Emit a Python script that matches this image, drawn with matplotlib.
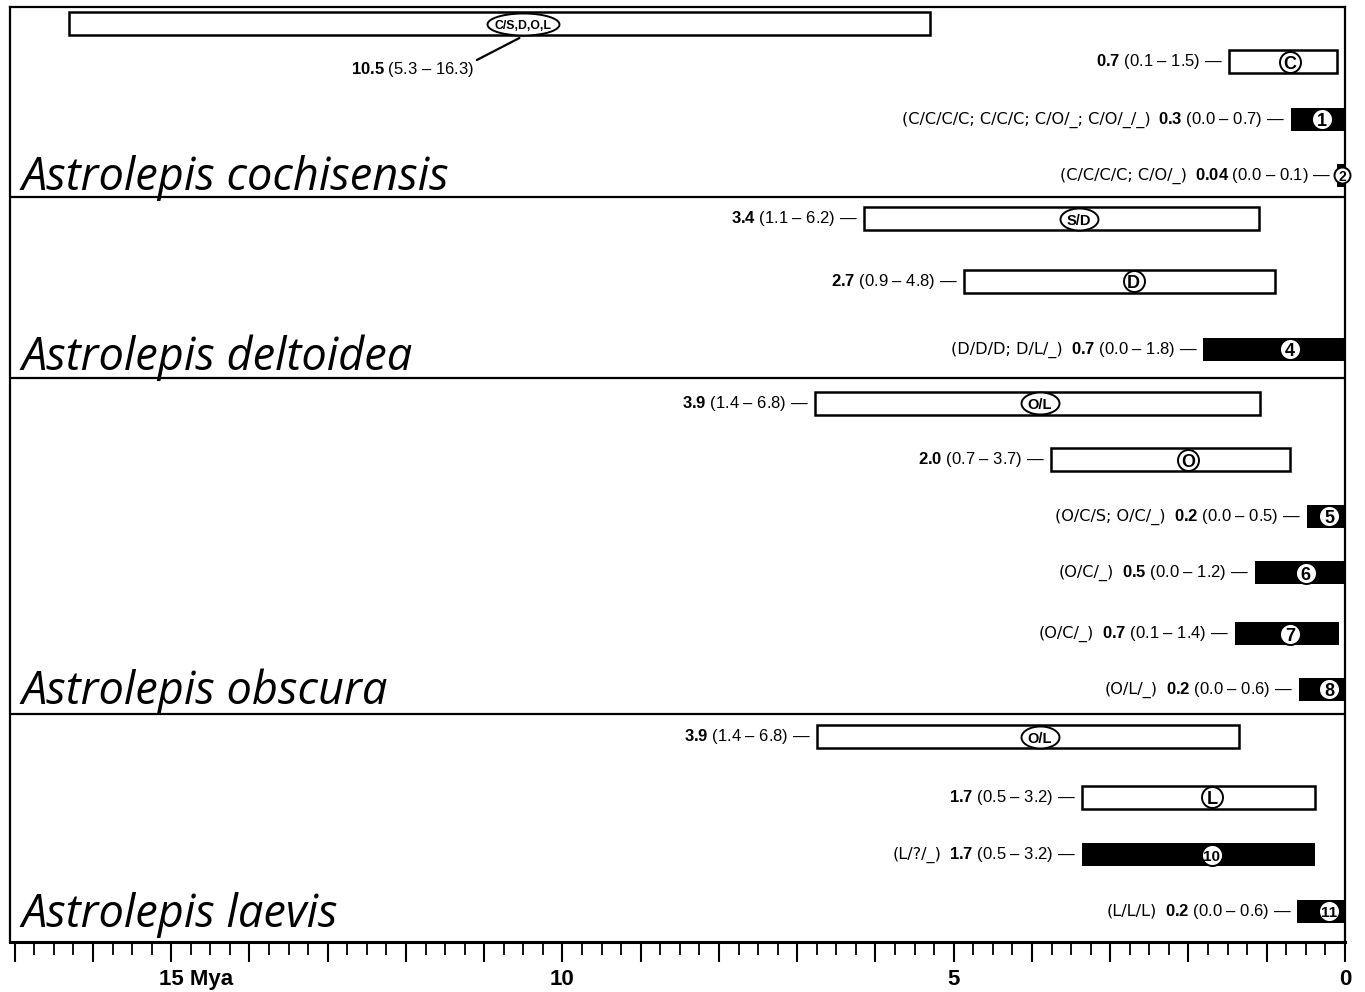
import numpy as np
import matplotlib
matplotlib.use('Agg')
import matplotlib.pyplot as plt
from matplotlib.ticker import MultipleLocator, FuncFormatter
from matplotlib.path import Path

# ---------------- data ----------------
species = ["Astrolepis cochisensis", "Astrolepis deltoidea",
           "Astrolepis obscura", "Astrolepis laevis"]
tags = ["C/S,D,O,L", "C", "1", "2", "S/D", "D", "4", "O/L", "O",
        "5", "6", "7", "8", "O/L", "L", "10", "11"]
filled = [False, False, True, True, False, False, True, False, False,
          True, True, True, True, False, False, True, True]
mean_age = [10.5, 0.7, 0.3, 0.04, 3.4, 2.7, 0.7, 3.9, 2.0,
            0.2, 0.5, 0.7, 0.2, 3.9, 1.7, 1.7, 0.2]
mean_txt = ["10.5", "0.7", "0.3", "0.04", "3.4", "2.7", "0.7", "3.9", "2.0",
            "0.2", "0.5", "0.7", "0.2", "3.9", "1.7", "1.7", "0.2"]
ci_low = ["5.3", "0.1", "0.0", "0.0", "1.1", "0.9", "0.0", "1.4", "0.7",
          "0.0", "0.0", "0.1", "0.0", "1.4", "0.5", "0.5", "0.0"]
ci_high = ["16.3", "1.5", "0.7", "0.1", "6.2", "4.8", "1.8", "6.8", "3.7",
           "0.5", "1.2", "1.4", "0.6", "6.8", "3.2", "3.2", "0.6"]
bar_young = [5.3, 0.1, 0.0, 0.0, 1.1, 0.9, 0.0, 1.08, 0.7,
             0.0, 0.0, 0.08, 0.0, 1.35, 0.38, 0.38, 0.0]
bar_old = [16.3, 1.48, 0.69, 0.1, 6.15, 4.87, 1.81, 6.77, 3.76,
           0.49, 1.15, 1.41, 0.59, 6.75, 3.36, 3.36, 0.61]
genotypes = ["", "", "(C/C/C/C; C/C/C; C/O/_; C/O/_/_)", "(C/C/C/C; C/O/_)",
             "", "", "(D/D/D; D/L/_)", "", "",
             "(O/C/S; O/C/_)", "(O/C/_)", "(O/C/_)", "(O/L/_)",
             "", "", "(L/?/_)", "(L/L/L)"]
tick_values = [0, 5, 10, 15]
tick_labels = ["0", "5", "10", "15 Mya"]

# ---------------- layout ----------------
row_y = [24, 62, 119.5, 175.5, 219, 281.5, 349.5, 403.5, 460, 516.5,
         573, 634, 689.5, 737, 797.5, 855, 911.5]
separators = [197, 378, 714]
species_baseline = [190, 370, 704, 927]
bar_h = 23

LAB = 'Liberation Sans'
PX = 72 / 100  # points per pixel

plt.rcParams['mathtext.fontset'] = 'custom'
plt.rcParams['mathtext.bf'] = 'Liberation Sans:bold'
plt.rcParams['mathtext.rm'] = 'Liberation Sans'


def ellipse_marker(aspect):
    th = np.linspace(0, 2 * np.pi, 72)
    return Path(np.column_stack([aspect * np.cos(th), np.sin(th)]), closed=True)


fig = plt.figure(figsize=(13.65, 9.92), dpi=100)
ax = fig.add_axes([10 / 1365, 50 / 992, 1335 / 1365, 935 / 992])
ax.set_xlim(17.06, 0)
ax.set_ylim(942, 7)

for s in ax.spines.values():
    s.set_linewidth(1.6)
ax.spines['bottom'].set_linewidth(2.2)

for y in separators:
    ax.axhline(y, color='black', lw=1.6, zorder=2)

for i in range(len(tags)):
    fc = 'black' if filled[i] else 'white'
    ax.barh(row_y[i], bar_old[i] - bar_young[i], left=bar_young[i],
            height=bar_h, color=fc, edgecolor='black',
            linewidth=0 if filled[i] else 1.8, zorder=3)

    # bubble around the tag
    n = len(tags[i])
    if n > 2:
        w_px = 72 if n > 4 else 38
        mk = ellipse_marker(w_px / 22)
        ms = w_px * PX
        fs = 8.8 if n > 4 else 10.5
    else:
        mk = 'o'
        ms = (16 if tags[i] == '2' else 21) * PX
        fs = 10 if tags[i] == '2' else (11 if n == 2 else 13)
    ax.plot([mean_age[i]], [row_y[i]], marker=mk, ms=ms, mfc='white',
            mec='black', mew=1.4, ls='none', zorder=6, clip_on=False)
    ax.text(mean_age[i], row_y[i] + 0.5, tags[i], ha='center',
            va='center_baseline', fontsize=fs, fontweight='bold',
            family=LAB, color='black', zorder=7, clip_on=False)

    lab = r"$\mathbf{%s}$ (%s – %s)" % (mean_txt[i], ci_low[i], ci_high[i])
    if i == 0:
        ax.annotate(lab, xy=(mean_age[i] + 0.05, row_y[i] + 14),
                    xytext=(mean_age[i] + 0.63, row_y[i] + 46),
                    ha='right', va='center', fontsize=12, family=LAB,
                    arrowprops=dict(arrowstyle='-', lw=1.6, color='black',
                                    shrinkA=0, shrinkB=0, relpos=(1.0, 0.95)),
                    zorder=4)
        continue
    t = ax.annotate(lab + " —", xy=(bar_old[i], row_y[i]),
                    xytext=(-6, 0), textcoords='offset pixels',
                    ha='right', va='center', fontsize=12, family=LAB, zorder=4)
    if genotypes[i]:
        ax.annotate(genotypes[i], xy=(0, 0.5), xycoords=t,
                    xytext=(-8, 0), textcoords='offset pixels',
                    ha='right', va='center', fontsize=11.6,
                    family='DejaVu Sans', zorder=4)

# species names
for name, yb in zip(species, species_baseline):
    ax.annotate(name, xy=(0, yb), xycoords=('axes fraction', 'data'),
                xytext=(12, 0), textcoords='offset pixels',
                ha='left', va='baseline', fontsize=32.5, style='italic',
                family='Open Sans')

# axis ticks
ax.set_yticks([])
ax.xaxis.set_major_locator(MultipleLocator(1))
ax.xaxis.set_minor_locator(MultipleLocator(0.25))
ax.xaxis.set_major_formatter(FuncFormatter(lambda v, p: ''))
ax.tick_params(axis='x', which='major', length=14.5, width=1.5)
ax.tick_params(axis='x', which='minor', length=9.5, width=1.3)

tick_fs = 16
renderer = fig.canvas.get_renderer()
for v, l in zip(tick_values, tick_labels):
    num = l.split(' ')[0]
    tmp = fig.text(0, 0, num, fontsize=tick_fs, fontweight='bold', family=LAB)
    w = tmp.get_window_extent(renderer=renderer).width
    tmp.remove()
    ax.annotate(l, xy=(v, 0), xycoords=('data', 'axes fraction'),
                xytext=(-w / 2, -27), textcoords='offset pixels',
                ha='left', va='top', fontsize=tick_fs, fontweight='bold',
                family=LAB, annotation_clip=False)

fig.savefig('out.png', dpi=100)
